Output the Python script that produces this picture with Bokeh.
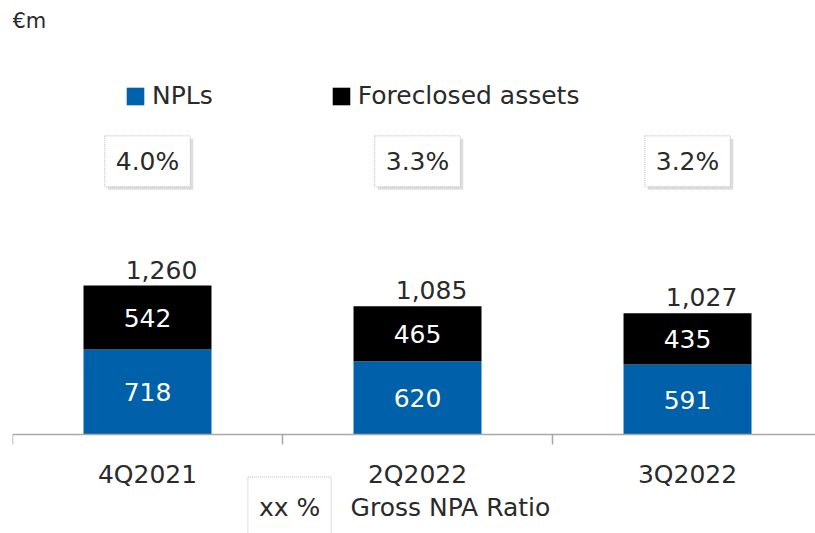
from bokeh.plotting import figure
from bokeh.models import (Range1d, FixedTicker, LinearAxis, Legend, LegendItem,
                          Label, ColumnDataSource)
from bokeh.core.properties import value
from bokeh.embed import file_html
from bokeh.resources import INLINE

# ---- data ----
categories = ["4Q2021", "2Q2022", "3Q2022"]
npls = [718, 620, 591]
foreclosed = [542, 465, 435]
totals = [1260, 1085, 1027]
ratios = ["4.0%", "3.3%", "3.2%"]
series_names = ["NPLs", "Foreclosed assets"]
unit_label = "€m"
ratio_legend_box = "xx %"
ratio_legend_text = "Gross NPA Ratio"

# ---- style ----
FONT_NAME = "DejaVu Sans"
FONT = value(FONT_NAME)
FS = "25px"
BLUE = "#0060A9"
BLACK = "#000000"
TEXT = "#2a2a2a"
GREY = "#a8a8a8"
Y_MIN, Y_MAX = -837, 3670
X_MAX = 2.974
UNIT_Y = 3600
RATIO_Y = 2310
BOTTOM_Y = -617
BOX_X = 1.026
NOTE_X = 1.252

x = [i + 0.5 for i in range(len(categories))]
src = ColumnDataSource(dict(
    x=x,
    npls=npls,
    fc=foreclosed,
    tot=totals,
    npl_mid=[v / 2 for v in npls],
    fc_mid=[a + b / 2 for a, b in zip(npls, foreclosed)],
    npl_txt=[str(v) for v in npls],
    fc_txt=[str(v) for v in foreclosed],
    tot_txt=[f"{v:,}" for v in totals],
    ratio=ratios,
    ratio_y=[RATIO_Y] * len(categories),
))

p = figure(width=815, height=533, x_range=Range1d(0, X_MAX), y_range=Range1d(Y_MIN, Y_MAX),
           output_backend="svg", toolbar_location=None,
           min_border_left=12, min_border_right=0, min_border_top=0, min_border_bottom=0,
           x_axis_type=None, y_axis_type=None)
p.outline_line_color = None
p.background_fill_color = "white"
p.border_fill_color = "white"

rs = p.vbar_stack(["npls", "fc"], x="x", width=0.474, color=[BLUE, BLACK],
                  line_color=None, source=src)

common = dict(text_font=FONT, text_font_size=FS, text_align="center")
p.text(x="x", y="npl_mid", text="npl_txt", text_baseline="middle",
       text_color="white", source=src, **common)
p.text(x="x", y="fc_mid", text="fc_txt", text_baseline="middle",
       text_color="white", source=src, **common)
p.text(x="x", y="tot", text="tot_txt", text_baseline="middle",
       x_offset=14, y_offset=-16, text_color=TEXT, source=src, **common)

# ratio boxes (shadow + box)
p.text(x="x", y="ratio_y", text="ratio", text_baseline="middle", text_alpha=0,
       padding=11, background_fill_color="#909090", background_fill_alpha=0.3,
       x_offset=3, y_offset=3, source=src, **common)
p.text(x="x", y="ratio_y", text="ratio", text_baseline="middle", text_color=TEXT,
       padding=11, background_fill_color="white",
       border_line_color="#bdbdbd", border_line_dash="1 1",
       source=src, **common)

# x axis, fixed at y = 0
ax = LinearAxis(ticker=FixedTicker(ticks=x, minor_ticks=[0, 1, 2]),
                major_label_overrides={xi: c for xi, c in zip(x, categories)},
                fixed_location=0)
ax.major_tick_out = 0
ax.major_tick_in = 0
ax.minor_tick_out = 10
ax.minor_tick_in = 0
ax.axis_line_color = GREY
ax.axis_line_width = 1.5
ax.minor_tick_line_color = GREY
ax.minor_tick_line_width = 1.5
ax.major_label_standoff = 15
ax.major_label_text_font = FONT_NAME
ax.major_label_text_font_size = FS
ax.major_label_text_color = TEXT
p.add_layout(ax, "below")

legend = Legend(items=[LegendItem(label=series_names[0], renderers=[rs[0]]),
                       LegendItem(label=series_names[1], renderers=[rs[1]])],
                orientation="horizontal", location=(112, 423),
                glyph_width=22, glyph_height=22, label_standoff=6, spacing=117,
                padding=0, margin=0, border_line_alpha=0, background_fill_alpha=0,
                label_text_font=FONT_NAME, label_text_font_size=FS, label_text_color=TEXT)
p.add_layout(legend, "center")

p.add_layout(Label(x=0, y=UNIT_Y, text=unit_label, text_baseline="top",
                   text_font=FONT_NAME, text_font_size="21px", text_color=TEXT))

p.add_layout(Label(x=BOX_X, y=BOTTOM_Y, text=ratio_legend_box, text_align="center",
                   text_baseline="middle", text_alpha=0, padding=(11, 16),
                   background_fill_color="#909090", background_fill_alpha=0.3,
                   x_offset=3, y_offset=-3,
                   text_font=FONT_NAME, text_font_size=FS))
p.add_layout(Label(x=BOX_X, y=BOTTOM_Y, text=ratio_legend_box, text_align="center",
                   text_baseline="middle", padding=(11, 16), background_fill_color="white",
                   border_line_color="#bdbdbd", border_line_dash="1 1",
                   text_font=FONT_NAME, text_font_size=FS, text_color=TEXT))
p.add_layout(Label(x=NOTE_X, y=BOTTOM_Y, text=ratio_legend_text, text_align="left",
                   text_baseline="middle", text_font=FONT_NAME, text_font_size=FS,
                   text_color=TEXT))

open("out.html", "w").write(file_html(p, INLINE))
